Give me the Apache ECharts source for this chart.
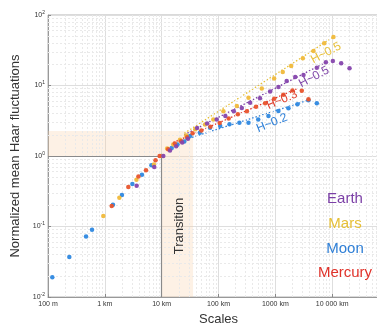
<!DOCTYPE html>
<html>
<head>
<meta charset="utf-8">
<script src="https://cdn.jsdelivr.net/npm/echarts@6/dist/echarts.min.js"></script>
<style>
  html, body { margin: 0; padding: 0; background: #fff; }
  #main { width: 377px; height: 324px; }
</style>
</head>
<body>
<div id="main"></div>
<script>
// scale (km), normalized mean Haar fluctuation
var moonPts = [
    [0.119, 0.019], [0.237, 0.037], [0.467, 0.072], [0.595, 0.090], [1.39, 0.203],
    [2.0, 0.28], [3.05, 0.40], [4.5, 0.54], [6.6, 0.74], [10, 1.0],
    [15, 1.3], [19, 1.45], [25, 1.6],
    [31.6, 1.92], [47, 2.14], [71, 2.52], [107, 2.67], [156, 2.82], [233, 2.97],
    [337, 2.97], [500, 3.3], [757, 3.7], [1135, 4.35], [1700, 4.75], [2450, 5.4],
    [3830, 6.2], [5370, 5.6]
];
var marsPts = [
    [0.94, 0.141], [1.8, 0.256], [3.6, 0.46], [7.3, 0.76], [9.8, 1.0],
    [12.5, 1.28], [16, 1.45], [21, 1.7], [27, 1.95],
    [39, 2.4], [58, 2.8], [81, 3.3], [122, 4.3], [210, 5.1], [337, 6.7], [578, 9.1],
    [953, 12.6], [1350, 15.5], [1900, 18.9], [3050, 24.3], [4690, 30.8], [7230, 39.6],
    [10540, 48.8]
];
var mercuryPts = [
    [1.32, 0.195], [2.59, 0.363], [3.9, 0.51], [5.3, 0.63], [7.8, 0.87], [9.2, 1.0],
    [13, 1.25], [17, 1.5], [22, 1.62], [28, 1.85],
    [35, 2.1], [50, 2.3], [72, 2.6], [105, 2.95], [151, 3.4], [219, 3.9], [316, 4.3],
    [457, 5.0], [661, 5.6], [955, 6.5], [1380, 7.4], [2000, 8.5], [2920, 8.4], [3830, 6.4]
];
var earthPts = [
    [3.63, 0.38], [7.4, 0.70], [10.7, 1.0],
    [14, 1.2], [18, 1.38], [23, 1.55], [29, 1.75],
    [42, 2.5], [63, 2.9], [93, 3.3], [132, 3.7], [186, 4.3], [257, 4.8], [360, 5.7],
    [537, 6.6], [809, 8.2], [1135, 9.5], [1585, 11.6], [2240, 13.2], [3130, 14.1],
    [5370, 17.9], [7750, 21.3], [10280, 22.3], [14400, 20.7], [20200, 17.5]
];

// fitted power laws (dotted)
var marsFit = [[25, 2.1], [10540, 48.8]];
var earthFit = [[25, 2.0], [7750, 21.3]];
var mercuryFit = [[16, 1.55], [2400, 9.0]];
var moonFit = [[20, 1.6], [3830, 6.2]];

var fitLabels = [
    { text: 'H~0.5', color: '#e8c03a', x: 326, y: 53, angle: 28 },
    { text: 'H~0.5', color: '#7f45a8', x: 314, y: 77, angle: 28 },
    { text: 'H~0.3', color: '#e0402e', x: 282, y: 100, angle: 23 },
    { text: 'H~0.2', color: '#2f80d8', x: 272, y: 123, angle: 22 }
];

var xTickLabels = { '-1': '100 m', '0': '1 km', '1': '10 km', '2': '100 km', '3': '1000 km', '4': '10 000 km' };

var planets = ['Earth', 'Mars', 'Moon', 'Mercury'];
var planetColors = ['#7b3fa6', '#e6bf35', '#2f7fd6', '#e0322a'];

// transition zone
var transLo = 10, transHi = 35.7, fluctTop = 2.26;

var FONT = 'Liberation Sans, Arial, sans-serif';

// minor grid values 2..9 x 10^k (decoration)
var minorX = [], minorY = [];
for (var k = -1; k < 5; k++) for (var m = 2; m < 10; m++) minorX.push(m * Math.pow(10, k));
for (var k2 = -2; k2 < 2; k2++) for (var m2 = 2; m2 < 10; m2++) minorY.push(m2 * Math.pow(10, k2));

var chart = echarts.init(document.getElementById('main'));

function ptSeries(name, data, color) {
    return {
        name: name, type: 'scatter', data: data, symbolSize: 4.5, z: 5,
        itemStyle: { color: color, opacity: 0.95 }
    };
}
function fitSeries(data, color) {
    return {
        type: 'line', data: data, symbol: 'none', silent: true, z: 4,
        lineStyle: { color: color, width: 1.3, type: [1.5, 2] }
    };
}

chart.setOption({
    animation: false,
    backgroundColor: '#fff',
    grid: {
        left: 48, right: -12, top: 15, bottom: 27, outerBoundsMode: 'none',
        show: true, borderColor: '#b5b5b5', borderWidth: 1
    },
    xAxis: {
        type: 'log', min: 0.1, max: 100000,
        name: 'Scales', nameLocation: 'middle', nameGap: 16,
        nameTextStyle: { fontFamily: FONT, fontSize: 13, color: '#333' },
        axisLine: { lineStyle: { color: '#999' } },
        axisTick: { inside: true, length: 3, lineStyle: { color: '#888' } },
        axisLabel: {
            fontFamily: FONT, fontSize: 7, color: '#333', margin: 4,
            formatter: function (v) {
                var e = Math.round(Math.log10(v));
                return xTickLabels[String(e)] || '';
            }
        },
        splitLine: { show: true, lineStyle: { color: '#dedede', width: 1 } }
    },
    yAxis: {
        type: 'log', min: 0.01, max: 100,
        name: 'Normalized mean Haar fluctuations', nameLocation: 'middle', nameGap: 22,
        nameTextStyle: { fontFamily: FONT, fontSize: 13, color: '#333' },
        axisLine: { lineStyle: { color: '#999' } },
        axisTick: { inside: true, length: 3, lineStyle: { color: '#888' } },
        axisLabel: {
            fontFamily: FONT, color: '#333', margin: 3,
            formatter: function (v) {
                var e = Math.round(Math.log10(v));
                return '{b|10}{s|' + e + '}';
            },
            rich: {
                b: { fontFamily: FONT, fontSize: 7, color: '#333' },
                s: { fontFamily: FONT, fontSize: 5, color: '#333', verticalAlign: 'top', padding: [0, 0, 5, 0] }
            }
        },
        splitLine: { show: true, lineStyle: { color: '#dedede', width: 1 } }
    },
    series: [
        {
            type: 'line', data: [], silent: true, z: 1,
            markArea: {
                silent: true,
                itemStyle: { color: 'rgba(248, 205, 160, 0.28)' },
                data: [
                    [{ coord: [0.1, 1] }, { coord: [transHi, fluctTop] }],
                    [{ coord: [transLo, 0.01] }, { coord: [transHi, 1] }]
                ]
            },
            markLine: {
                silent: true, symbol: 'none', label: { show: false },
                lineStyle: { color: '#e9e9e9', type: [2, 2], width: 1 },
                data: minorX.map(function (v) { return [{ coord: [v, 0.01] }, { coord: [v, 100] }]; })
                    .concat(minorY.map(function (v) { return [{ coord: [0.1, v] }, { coord: [100000, v] }]; }))
            }
        },
        {
            type: 'line', data: [], silent: true, z: 3,
            markLine: {
                silent: true, symbol: 'none', label: { show: false },
                lineStyle: { color: '#8a8a8a', type: 'solid', width: 1.2 },
                data: [
                    [{ coord: [0.1, 1] }, { coord: [transLo, 1] }],
                    [{ coord: [transLo, 0.01] }, { coord: [transLo, 1] }]
                ]
            }
        },
        fitSeries(marsFit, planetColors[1]),
        fitSeries(earthFit, planetColors[0]),
        fitSeries(mercuryFit, planetColors[3]),
        fitSeries(moonFit, planetColors[2]),
        ptSeries('Moon', moonPts, '#2e88e0'),
        ptSeries('Mars', marsPts, '#f0b93a'),
        ptSeries('Mercury', mercuryPts, '#e8542c'),
        ptSeries('Earth', earthPts, '#8646ad')
    ],
    graphic: [
        {
            type: 'text', x: 179, y: 226, rotation: Math.PI / 2, z: 10,
            style: { text: 'Transition', fill: '#333', font: '13px ' + FONT, align: 'center', verticalAlign: 'middle' }
        }
    ].concat(fitLabels.map(function (l) {
        return {
            type: 'text', x: l.x, y: l.y, rotation: l.angle * Math.PI / 180, z: 10,
            style: { text: l.text, fill: l.color, font: '12px ' + FONT, align: 'center', verticalAlign: 'middle' }
        };
    })).concat(planets.map(function (p, i) {
        return {
            type: 'text', x: 345, y: 199 + i * 24.7, z: 10,
            style: { text: p, fill: planetColors[i], font: '15px ' + FONT, align: 'center', verticalAlign: 'middle' }
        };
    }))
});
</script>
</body>
</html>
